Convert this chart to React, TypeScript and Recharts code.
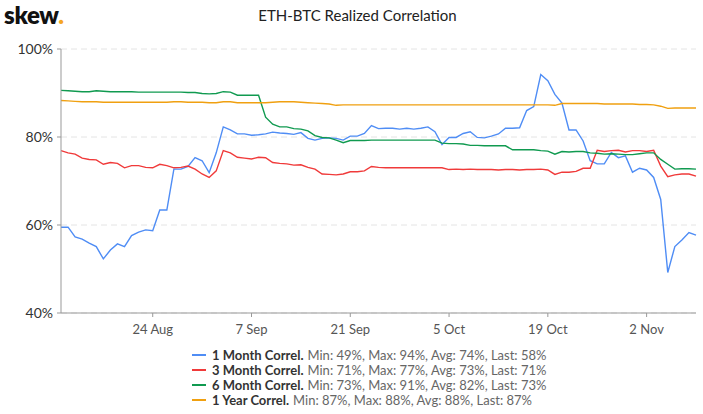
import { LineChart, Line, XAxis, YAxis, CartesianGrid } from 'recharts'

// ─── Data (daily, 11 Aug → 9 Nov) ────────────────────────────────────────────

const START_DAY = Date.UTC(2020, 7, 11)
const MONTHS = ['Jan', 'Feb', 'Mar', 'Apr', 'May', 'Jun', 'Jul', 'Aug', 'Sep', 'Oct', 'Nov', 'Dec']

const oneMonth = [
  59.5, 59.5, 57.3, 56.8, 55.9, 55.1, 52.3, 54.3, 55.7, 55.1,
  57.6, 58.4, 58.9, 58.7, 63.4, 63.4, 72.7, 72.7, 73.3, 75.3,
  74.6, 71.9, 76.4, 82.3, 81.6, 80.7, 80.7, 80.4, 80.5, 80.7,
  81.1, 80.9, 80.8, 80.6, 81.0, 79.7, 79.3, 79.7, 79.8, 79.7,
  79.3, 80.2, 80.2, 80.8, 82.6, 81.9, 82.0, 82.0, 81.8, 82.0,
  81.8, 82.0, 82.3, 81.2, 78.3, 79.9, 79.9, 80.8, 81.2, 79.9,
  79.8, 80.2, 80.7, 82.0, 82.0, 82.1, 86.0, 86.9, 94.2, 92.8,
  89.7, 87.7, 81.6, 81.6, 79.1, 74.6, 73.9, 73.9, 76.5, 75.3,
  75.7, 72.0, 72.9, 72.5, 70.8, 65.8, 49.2, 55.1, 56.6, 58.3,
  57.7,
]

const threeMonth = [
  76.9, 76.4, 76.1, 75.2, 74.9, 74.8, 73.8, 74.2, 74.0, 73.0,
  73.5, 73.5, 73.1, 73.0, 73.8, 73.5, 73.0, 73.1, 73.4, 72.7,
  71.6, 70.8, 72.3, 76.9, 76.4, 75.4, 75.2, 75.0, 75.4, 75.3,
  74.2, 74.0, 73.9, 73.6, 73.7, 73.1, 72.7, 71.6, 71.5, 71.4,
  71.6, 72.1, 72.1, 72.3, 73.3, 73.1, 73.0, 73.0, 73.0, 73.0,
  73.0, 73.0, 73.0, 73.0, 73.0, 72.6, 72.7, 72.6, 72.7, 72.6,
  72.6, 72.6, 72.5, 72.6, 72.6, 72.5, 72.6, 72.6, 72.7, 72.5,
  71.5, 72.0, 72.0, 72.2, 72.9, 72.9, 77.0, 76.7, 76.9, 77.0,
  76.6, 76.9, 76.9, 76.7, 77.0, 73.4, 71.0, 71.4, 71.6, 71.6,
  71.1,
]

const sixMonth = [
  90.6, 90.5, 90.4, 90.3, 90.3, 90.5, 90.4, 90.3, 90.3, 90.3,
  90.3, 90.2, 90.2, 90.2, 90.2, 90.2, 90.2, 90.2, 90.1, 90.1,
  89.9, 89.8, 89.9, 90.3, 90.2, 89.5, 89.5, 89.5, 89.5, 84.5,
  82.9, 82.3, 82.3, 81.9, 81.8, 81.4, 80.3, 79.9, 79.8, 79.3,
  78.7, 79.2, 79.2, 79.2, 79.3, 79.3, 79.3, 79.3, 79.3, 79.3,
  79.3, 79.3, 79.3, 79.3, 78.6, 78.5, 78.5, 78.4, 78.1, 78.1,
  78.0, 78.0, 78.0, 78.0, 77.1, 77.1, 77.1, 77.1, 76.9, 76.8,
  76.1, 76.7, 76.6, 76.7, 76.7, 76.4, 76.3, 76.1, 76.2, 76.1,
  76.0, 76.0, 76.2, 76.4, 76.4, 74.9, 73.8, 72.7, 72.8, 72.8,
  72.7,
]

const oneYear = [
  88.3, 88.2, 88.1, 88.0, 88.0, 88.0, 87.9, 87.9, 87.9, 87.9,
  87.9, 87.9, 87.9, 87.9, 87.9, 87.9, 88.0, 88.0, 87.9, 87.9,
  87.9, 87.8, 87.8, 88.0, 88.0, 87.8, 87.8, 87.8, 87.8, 87.8,
  87.9, 88.0, 88.0, 88.0, 87.9, 87.8, 87.7, 87.6, 87.5, 87.2,
  87.3, 87.3, 87.3, 87.3, 87.3, 87.3, 87.3, 87.3, 87.3, 87.3,
  87.3, 87.3, 87.3, 87.3, 87.3, 87.3, 87.3, 87.3, 87.3, 87.3,
  87.3, 87.3, 87.3, 87.3, 87.3, 87.3, 87.3, 87.3, 87.3, 87.3,
  87.2, 87.6, 87.6, 87.6, 87.6, 87.6, 87.6, 87.5, 87.5, 87.5,
  87.5, 87.5, 87.4, 87.4, 87.3, 87.0, 86.5, 86.6, 86.6, 86.6,
  86.6,
]

const xTicks = ['24 Aug', '7 Sep', '21 Sep', '5 Oct', '19 Oct', '2 Nov']
const yTicks = [40, 60, 80, 100]

const SERIES = [
  { key: 'm1', name: '1 Month Correl.', color: '#4f8df5', values: oneMonth, stats: 'Min: 49%, Max: 94%, Avg: 74%, Last: 58%' },
  { key: 'm3', name: '3 Month Correl.', color: '#f03a3a', values: threeMonth, stats: 'Min: 71%, Max: 77%, Avg: 73%, Last: 71%' },
  { key: 'm6', name: '6 Month Correl.', color: '#109a50', values: sixMonth, stats: 'Min: 73%, Max: 91%, Avg: 82%, Last: 73%' },
  { key: 'y1', name: '1 Year Correl.', color: '#f0a010', values: oneYear, stats: 'Min: 87%, Max: 88%, Avg: 88%, Last: 87%' },
]

function dayLabel(i: number) {
  const d = new Date(START_DAY + i * 86400000)
  return `${d.getUTCDate()} ${MONTHS[d.getUTCMonth()]}`
}

const chartData = oneMonth.map((_, i) => ({
  date: dayLabel(i),
  m1: oneMonth[i],
  m3: threeMonth[i],
  m6: sixMonth[i],
  y1: oneYear[i],
}))

const FONT = 'Lato, "Open Sans", sans-serif'

export default function App() {
  return (
    <div style={{
      position: 'absolute', left: 0, top: 0, width: 703, height: 414,
      background: '#fff', fontFamily: FONT, overflow: 'hidden',
    }}>
      {/* logo */}
      <div style={{
        position: 'absolute', left: 4, top: 0, fontSize: 24, fontWeight: 800,
        color: '#111', letterSpacing: -0.3,
      }}>
        skew<span style={{ color: '#f5a623' }}>.</span>
      </div>

      {/* title */}
      <div style={{
        position: 'absolute', left: 0, top: 6, width: 715, textAlign: 'center',
        fontSize: 15, color: '#222',
      }}>
        ETH-BTC Realized Correlation
      </div>

      <div style={{ position: 'absolute', left: 0, top: 0 }}>
        <LineChart
          width={703}
          height={414}
          data={chartData}
          margin={{ top: 49, right: 7, left: 0, bottom: 71 }}
        >
          <CartesianGrid vertical={false} stroke="#e4e4e4" strokeDasharray="6 4" />
          <XAxis
            dataKey="date"
            ticks={xTicks}
            interval={0}
            height={30}
            tickSize={4}
            tickMargin={8}
            axisLine={{ stroke: '#999' }}
            tickLine={{ stroke: '#999' }}
            tick={{ fill: '#555', fontSize: 13, fontFamily: FONT }}
          />
          <YAxis
            width={61}
            domain={[40, 100]}
            ticks={yTicks}
            tickSize={4}
            tickMargin={4}
            axisLine={{ stroke: '#999' }}
            tickLine={{ stroke: '#999' }}
            tick={{ fill: '#333', fontSize: 14, fontFamily: FONT }}
            tickFormatter={(v) => `${v}%`}
          />
          {SERIES.map(s => (
            <Line
              key={s.key}
              dataKey={s.key}
              stroke={s.color}
              strokeWidth={1.4}
              dot={false}
              type="linear"
              isAnimationActive={false}
            />
          ))}
        </LineChart>
      </div>

      {/* legend */}
      <div style={{ position: 'absolute', left: 192, top: 347 }}>
        {SERIES.map(s => (
          <div key={s.key} style={{ display: 'flex', alignItems: 'center', height: 15, fontSize: 13, whiteSpace: 'nowrap' }}>
            <div style={{ width: 14, height: 2, background: s.color, marginRight: 6, flexShrink: 0 }} />
            <span style={{ color: '#333', fontWeight: 700 }}>{s.name}</span>
            <span style={{ color: '#666', marginLeft: 4 }}>{s.stats}</span>
          </div>
        ))}
      </div>
    </div>
  )
}
